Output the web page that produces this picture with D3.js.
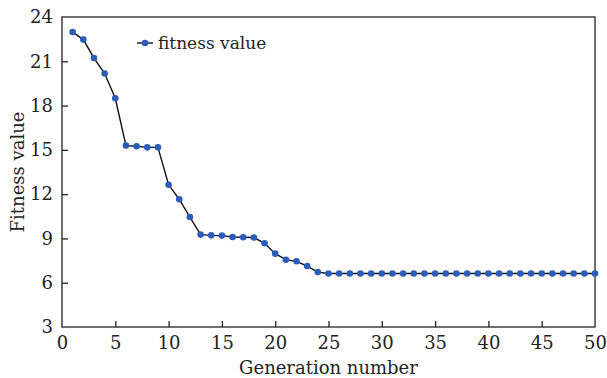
<!DOCTYPE html>
<html><head><meta charset="utf-8">
<script src="https://cdn.jsdelivr.net/npm/d3@7"></script>
<style>body{margin:0;background:#fff}svg{display:block}</style>
</head><body><svg id="c" width="607" height="378"></svg>
<script>
const generations = d3.range(1, 51);
const fitness = [22.98,22.47,21.22,20.17,18.49,15.29,15.24,15.17,15.17,12.64,
  11.65,10.45,9.26,9.21,9.19,9.1,9.08,9.06,8.67,7.97,
  7.56,7.45,7.13,6.72,6.62,6.62,6.62,6.62,6.62,6.62,
  6.62,6.62,6.62,6.62,6.62,6.62,6.62,6.62,6.62,6.62,
  6.62,6.62,6.62,6.62,6.62,6.62,6.62,6.62,6.62,6.62];
const xTicks = [0,5,10,15,20,25,30,35,40,45,50];
const yTicks = [3,6,9,12,15,18,21,24];
const seriesName = "fitness value";
const xLabel = "Generation number";
const yLabel = "Fitness value";

const svg = d3.select("#c");
const L = 62, R = 595, T = 17, B = 327;
const x = d3.scaleLinear().domain([0,50]).range([L,R]);
const y = d3.scaleLinear().domain([3,24]).range([B,T]);
const font = "DejaVu Serif";
const fs = 18;

svg.append("rect").attr("x",L).attr("y",T).attr("width",R-L).attr("height",B-T)
  .attr("fill","none").attr("stroke","#222").attr("stroke-width",1.3);

const xa = svg.append("g").attr("transform",`translate(0,${B})`)
  .call(d3.axisBottom(x).tickValues(xTicks).tickSize(-6).tickPadding(9).tickFormat(d3.format("d")));
const ya = svg.append("g").attr("transform",`translate(${L},0)`)
  .call(d3.axisLeft(y).tickValues(yTicks).tickSize(-6).tickPadding(9).tickFormat(d3.format("d")));
[xa,ya].forEach(a=>{
  a.select(".domain").remove();
  a.selectAll(".tick line").attr("stroke","#222").attr("stroke-width",1.3);
  a.selectAll(".tick text").attr("font-family",font).attr("font-size",fs).attr("fill","#222");
});
xa.selectAll(".tick").filter(d=>d===0||d===50).select("line").remove();
ya.selectAll(".tick").filter(d=>d===3||d===24).select("line").remove();

const data = generations.map((g,i)=>({g, v:fitness[i]}));
svg.append("path").datum(data)
  .attr("d", d3.line().x(d=>x(d.g)).y(d=>y(d.v)))
  .attr("fill","none").attr("stroke","#111").attr("stroke-width",1.4);
svg.append("g").selectAll("circle").data(data).join("circle")
  .attr("cx",d=>x(d.g)).attr("cy",d=>y(d.v)).attr("r",3.3).attr("fill","#2a5cb8");

const lg = svg.append("g");
lg.append("line").attr("x1",137).attr("x2",153).attr("y1",43).attr("y2",43).attr("stroke","#111").attr("stroke-width",1.4);
lg.append("circle").attr("cx",145).attr("cy",43).attr("r",3.3).attr("fill","#2a5cb8");
lg.append("text").attr("x",158).attr("y",49).attr("font-family",font).attr("font-size",17).attr("fill","#222").text(seriesName);

svg.append("text").attr("x",(L+R)/2).attr("y",374).attr("text-anchor","middle")
  .attr("font-family",font).attr("font-size",fs).attr("fill","#222").text(xLabel);
svg.append("text").attr("transform",`translate(24,${(T+B)/2}) rotate(-90)`).attr("text-anchor","middle")
  .attr("font-family",font).attr("font-size",fs).attr("fill","#222").text(yLabel);
</script></body></html>
